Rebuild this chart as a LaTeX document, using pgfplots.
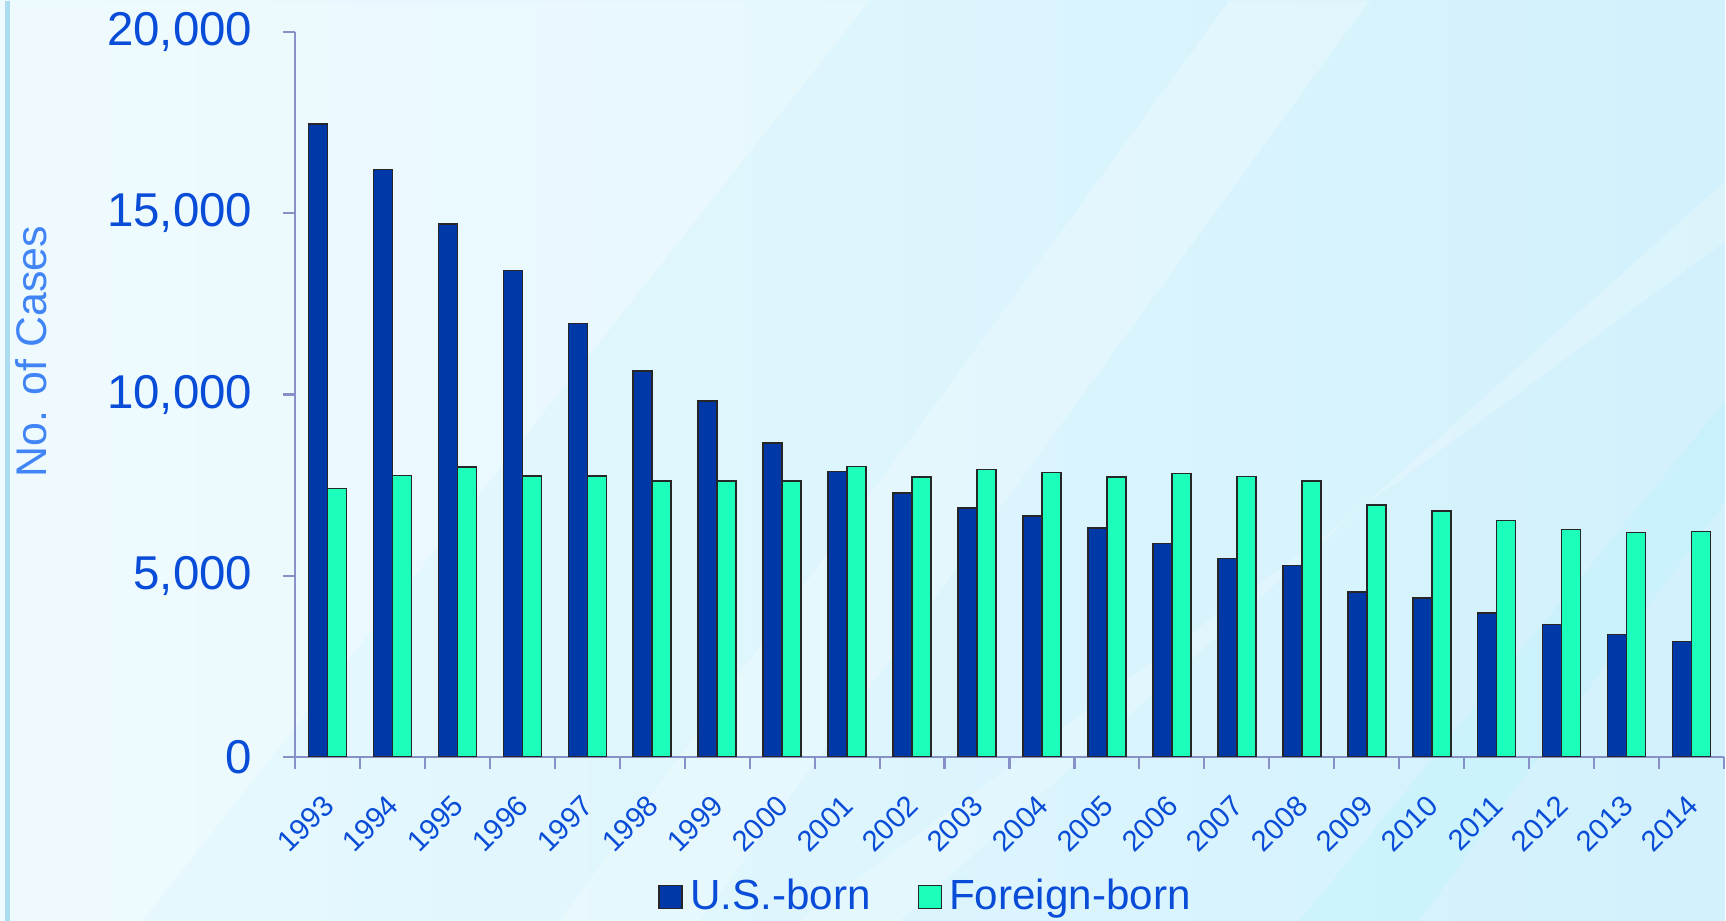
\documentclass[border=0pt]{standalone}
\usepackage{pgfplots}
\pgfplotsset{compat=1.18}
\usepackage{fontspec}
\setmainfont{Liberation Sans}
\definecolor{usb}{RGB}{0,56,168}
\definecolor{fb}{RGB}{28,255,186}
\definecolor{tickblue}{RGB}{8,76,216}
\definecolor{lblblue}{RGB}{64,132,245}
\definecolor{axgray}{RGB}{136,144,200}
\definecolor{bgL}{RGB}{232,249,254}
\definecolor{bgR}{RGB}{210,241,252}
\definecolor{edgeline}{RGB}{172,220,240}
\begin{document}
\begin{tikzpicture}
\begin{scope}[x=0.01cm,y=0.01cm]
\shade[left color=bgL, right color=bgR] (0,0) rectangle (1726,921);
\fill[white,opacity=0.30] (0,921) -- (870,921) -- (142,0) -- (0,0) -- cycle;
\fill[white,opacity=0.25] (1230,921) -- (1370,921) -- (700,0) -- (560,0) -- cycle;
\fill[white,opacity=0.22] (900,0) -- (1726,740) -- (1726,680) -- (800,0) -- cycle;
\fill[bgR!85!cyan,opacity=0.25] (1300,0) -- (1726,520) -- (1726,420) -- (1420,0) -- cycle;
\fill[edgeline] (5,0) rectangle (10,921);
\end{scope}
\begin{axis}[
  at={(2.95cm,1.64cm)}, anchor=south west,
  width=14.29cm, height=7.25cm, scale only axis,
  xmin=-0.5, xmax=21.5, ymin=0, ymax=20000,
  axis x line*=bottom, axis y line*=left,
  axis line style={axgray, line width=0.6pt},
  tick style={axgray, line width=0.6pt},
  tick align=outside, major tick length=0.12cm,
  xtick={-0.5,0.5,...,21.5},
  x tick label as interval,
  xticklabels={1993,1994,1995,1996,1997,1998,1999,2000,2001,2002,2003,2004,2005,2006,2007,2008,2009,2010,2011,2012,2013,2014},
  xticklabel style={rotate=45, anchor=north east, inner sep=0pt, xshift=-0.21cm, yshift=-0.12cm,
     font=\fontsize{8.3}{9}\selectfont, text=tickblue},
  ytick={0,5000,10000,15000,20000},
  yticklabel style={font=\fontsize{13.5}{16}\selectfont, text=tickblue, inner sep=0pt, xshift=-0.3cm},
  /pgf/number format/.cd, 1000 sep={,}, assume math mode=true, /pgfplots/.cd,
  scaled y ticks=false,
  ylabel={No. of Cases},
  ylabel style={at={(rel axis cs:0,0.559)}, anchor=center, yshift=2.64cm,
     font=\fontsize{12.2}{14}\selectfont, text=lblblue},
  ybar=0pt, bar width=0.19cm,
  legend style={at={(rel axis cs:0.443,-0.193)}, anchor=center, draw=none, fill=none,
     legend columns=2, font=\fontsize{12}{14}\selectfont, text=tickblue,
     /tikz/every even column/.append style={column sep=0.4cm}},
  legend image code/.code={\draw[#1] (0cm,-0.115cm) rectangle (0.23cm,0.115cm);},
  legend cell align=left,
]
\addplot[draw=black!85, line width=0.45pt, fill=usb] coordinates {
(0,17460) (1,16210) (2,14700) (3,13415) (4,11955) (5,10650) (6,9815) (7,8660)
(8,7880) (9,7290) (10,6865) (11,6650) (12,6320) (13,5895) (14,5480) (15,5285)
(16,4555) (17,4390) (18,3980) (19,3650) (20,3375) (21,3190)};
\addplot[draw=black!85, line width=0.45pt, fill=fb] coordinates {
(0,7410) (1,7760) (2,8005) (3,7750) (4,7750) (5,7610) (6,7610) (7,7620)
(8,8015) (9,7730) (10,7930) (11,7850) (12,7725) (13,7815) (14,7735) (15,7615)
(16,6955) (17,6780) (18,6525) (19,6270) (20,6195) (21,6215)};
\legend{U.S.-born, Foreign-born}
\end{axis}
\pgfresetboundingbox
\path (0,0) rectangle (17.26cm,9.21cm);
\end{tikzpicture}
\end{document}
